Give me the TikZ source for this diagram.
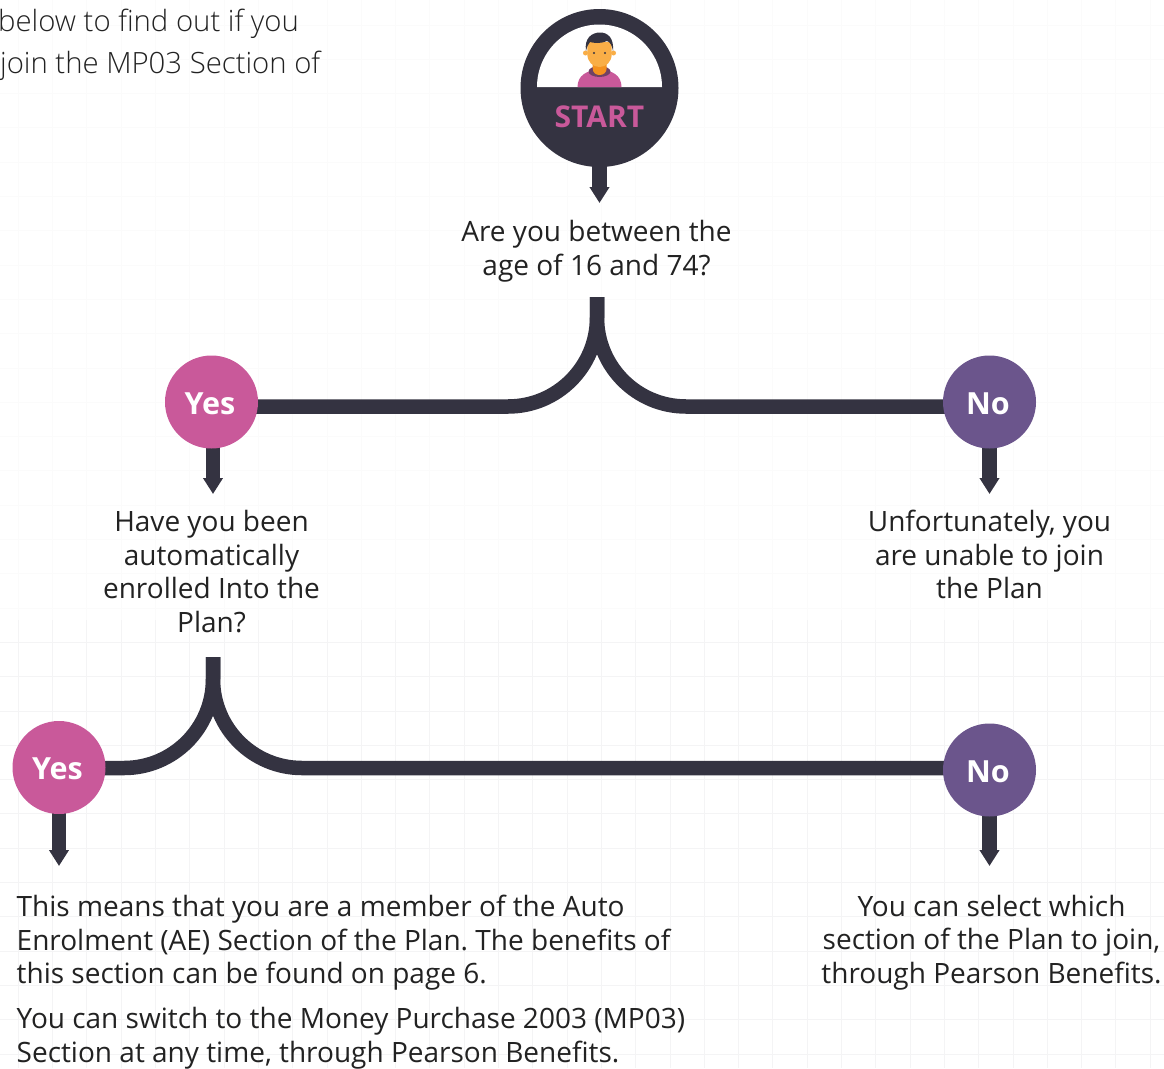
\documentclass[tikz,border=0pt]{standalone}
\usepackage{fontspec}
\setmainfont{Open Sans}
\newfontfamily\lightfont{Open Sans Light}
\usetikzlibrary{arrows.meta,backgrounds}
\frenchspacing
\definecolor{darkline}{HTML}{343341}
\definecolor{yespink}{HTML}{C9599A}
\definecolor{nopurple}{HTML}{6B558C}
\definecolor{skin}{HTML}{F9AE47}
\definecolor{neck}{HTML}{F5911E}
\definecolor{gridline}{HTML}{F4F4F5}
\definecolor{gridfaint}{HTML}{FBFBFB}
\definecolor{inktext}{HTML}{222222}
\tikzset{
  answer/.style={circle,minimum size=93pt,inner sep=0pt,text=white,text height=24pt,text depth=0pt,font=\fontsize{30.5}{34}\selectfont\bfseries,
    execute at begin node={\hspace*{-3pt}}},
  label/.style={align=center,text=inktext,font=\fontsize{28}{33.6}\selectfont},
  para/.style={align=left,anchor=north west,inner sep=0pt,text=inktext,font=\fontsize{28}{33.6}\selectfont},
  intro/.style={anchor=base west,inner sep=0pt,text=inktext,font=\fontsize{29.3}{34}\lightfont},
  fork/.style={draw=darkline,line width=14.5pt,rounded corners=89pt},
  down/.style={draw=darkline,line width=14.5pt,-{Triangle[width=19pt,length=16pt]}},
}
\begin{document}
\begin{tikzpicture}[x=1pt,y=-1pt,>=stealth]
\useasboundingbox (0,0) rectangle (1164,1068);
%text cut by the page edge
    \node[intro] (introa) at (-2,31) {below to find out if you};
    \node[intro] (introb) at (0,73) {join the MP03 Section of};
%start badge
    \node[circle,fill=darkline,minimum size=158pt,inner sep=0pt] (start) at (599.5,88) {};
    \fill[white] (537,87) arc (180:360:62.5) -- cycle;
    \begin{scope}
    \clip (537,87) arc (180:360:62.5) -- cycle;
    \fill[yespink] (577.5,87) .. controls (577.5,76) and (586,70) .. (599.5,70) .. controls (613,70) and (621.5,76) .. (621.5,87) -- cycle;
    \fill[darkline!60!yespink] (599.5,71.5) ellipse (11 and 5.5);
    \fill[neck] (592.7,60) -- (606.7,60) -- (606.7,68) .. controls (606.7,73) and (603,75) .. (599.5,75) .. controls (596,75) and (592.7,73) .. (592.7,68) -- cycle;
    \fill[skin] (585.5,53) circle (2.5);
    \fill[skin] (613.5,53) circle (2.5);
    \fill[skin] (587.3,42) -- (611.7,42) -- (611.7,54) .. controls (611.7,62) and (606,67) .. (599.5,67) .. controls (593,67) and (587.3,62) .. (587.3,54) -- cycle;
    \fill[darkline] (586,51) .. controls (584,38) and (592,32.5) .. (600,32.5) .. controls (608,32.5) and (614,38) .. (613,51) .. controls (612,45) and (610,42) .. (607,41) .. controls (600,44) and (594,43) .. (590,42) .. controls (588,44) and (587,47) .. (586,51) -- cycle;
    \fill[darkline] (594,53) circle (1.1);
    \fill[darkline] (605,53) circle (1.1);
    \end{scope}
    \node[font=\fontsize{30}{34}\selectfont\bfseries,text=yespink,inner sep=0pt] (starttext) at (599.5,117) {START};
%answers
    \node[answer,fill=yespink] (yesa) at (211.5,402) {Yes};
    \node[answer,fill=nopurple] (noa) at (989.5,402) {No};
    \node[answer,fill=yespink] (yesb) at (59,767.5) {Yes};
    \node[answer,fill=nopurple] (nob) at (989.5,770) {No};
%questions and results
    \node[label] (age) at (596.5,251) {Are you between the\\age of 16 and 74?};
    \node[label] (enrolled) at (211.5,571.5) {Have you been\\automatically\\enrolled Into the\\Plan?};
    \node[label] (unable) at (989.5,554.5) {Unfortunately, you\\are unable to join\\the Plan};
    \node[label] (select) at (991.5,942.5) {You can select which\\section of the Plan to join,\\through Pearson Benefits.};
    \node[para] (member) at (16.5,895) {This means that you are a member of the Auto\\Enrolment (AE) Section of the Plan. The benefits of\\this section can be found on page 6.};
    \node[para] (switch) at (16.5,1007) {You can switch to the Money Purchase 2003 (MP03)\\Section at any time, through Pearson Benefits.};
%free ends
    \coordinate (forka) at (597,297);
    \coordinate (forkb) at (213,657);
    \coordinate (agein) at (599.5,203);
    \coordinate (enrolledin) at (213,494);
    \coordinate (unablein) at (989.5,494);
    \coordinate (memberin) at (59,866);
    \coordinate (selectin) at (989.5,866);
    \begin{scope}[on background layer]
%faint squares behind everything
    \foreach \i in {0,...,33}
        {
        \draw[gridfaint,line width=1pt] (18.3+34.3*\i,0) -- (18.3+34.3*\i,620);
        \draw[gridline,line width=1pt] (18.3+34.3*\i,620) -- (18.3+34.3*\i,1068);
    }
    \foreach \i in {0,...,17}
        {
        \draw[gridfaint,line width=1pt] (0,25+34.3*\i) -- (1164,25+34.3*\i);
    }
    \foreach \i in {18,...,30}
        {
        \draw[gridline,line width=1pt] (0,25+34.3*\i) -- (1164,25+34.3*\i);
    }
    \draw[fork] (forka) |- (yesa.center |- 0,406.5);
    \draw[fork] (forka) |- (noa.center |- 0,406.5);
    \draw[fork] (forkb) |- (yesb.center |- 0,768);
    \draw[fork] (forkb) |- (nob.center |- 0,768);
    \draw[down] (start.center) -- (agein);
    \draw[down] ([xshift=1.5pt]yesa.center) -- (enrolledin);
    \draw[down] (noa.center) -- (unablein);
    \draw[down] (yesb.center) -- (memberin);
    \draw[down] (nob.center) -- (selectin);
    \end{scope}
\end{tikzpicture}
\end{document}
